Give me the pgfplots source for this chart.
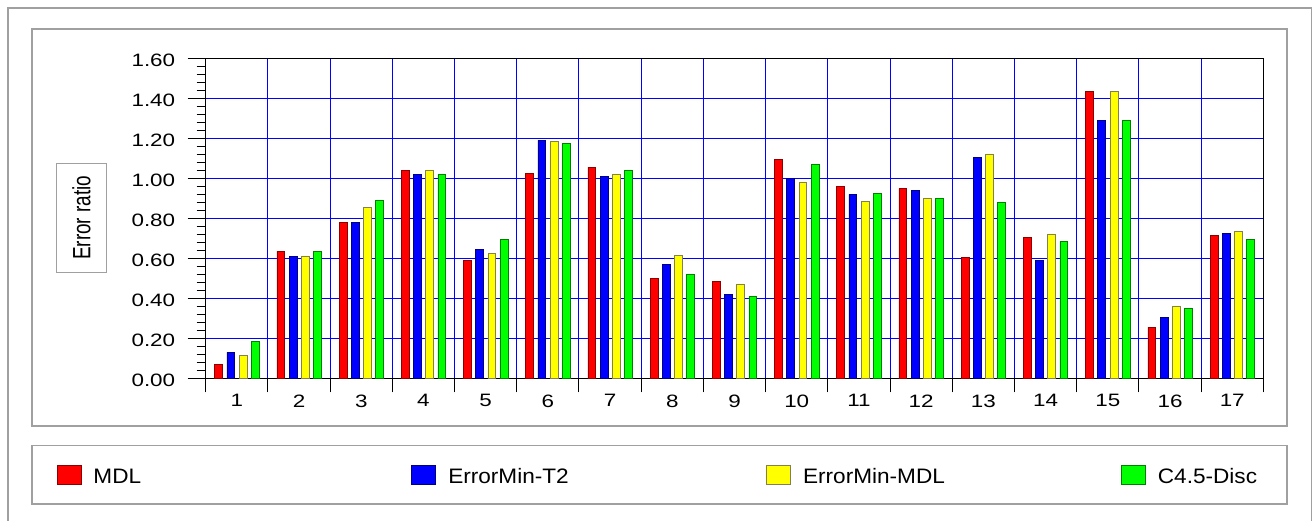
\documentclass[border=0pt]{standalone}
\usepackage{fontspec}
\setmainfont{Liberation Sans}
\newfontfamily\tickfont{Liberation Sans}[FakeStretch=1.25]
\newfontfamily\legfont{Liberation Sans}[FakeStretch=1.08]
\usepackage{pgfplots}
\usepackage{pgfplotstable}
\pgfplotsset{compat=1.18}
\definecolor{framegray}{HTML}{A0A0A0}
\definecolor{cred}{HTML}{FF0000}
\definecolor{cblue}{HTML}{0000FF}
\definecolor{cyellow}{HTML}{FFFF00}
\definecolor{cgreen}{HTML}{00FF00}

\pgfplotstableread{
x mdl t2 emmdl c45
1  0.070 0.130 0.115 0.185
2  0.636 0.610 0.610 0.636
3  0.780 0.780 0.856 0.890
4  1.040 1.020 1.040 1.020
5  0.590 0.643 0.623 0.696
6  1.025 1.190 1.187 1.175
7  1.056 1.008 1.020 1.040
8  0.500 0.570 0.615 0.520
9  0.486 0.420 0.470 0.410
10 1.096 1.000 0.980 1.070
11 0.960 0.920 0.885 0.925
12 0.950 0.940 0.900 0.900
13 0.605 1.106 1.120 0.878
14 0.706 0.590 0.720 0.686
15 1.433 1.290 1.433 1.290
16 0.256 0.306 0.360 0.350
17 0.716 0.726 0.735 0.695
}\datatable

\newcommand{\legtext}[1]{\raisebox{0bp}[0pt][0pt]{\makebox[318bp][l]{#1}}}

\begin{document}
\begin{tikzpicture}[x=1bp,y=-1bp]
\useasboundingbox (0,0) rectangle (1314,521);
% frames
\draw[framegray, line width=1.2bp] (8,8) rectangle (1311.5,540);
\draw[framegray, line width=1.2bp] (32,29) rectangle (1287,426);
\draw[framegray, line width=1.2bp] (32,445.7) rectangle (1287,504);

\begin{axis}[
  at={(205.7bp,-378.3bp)}, anchor=south west,
  scale only axis, width=1057.6bp, height=320bp,
  xmin=0.5, xmax=17.5, ymin=0, ymax=1.6,
  ybar=4.4bp, bar width=7.8bp,
  axis line style={black, line width=1bp},
  tick align=outside,
  xtick pos=bottom, ytick pos=left,
  xtick={1,...,17},
  xtick style={draw=none},
  minor xtick={0.5,1.5,...,17.5},
  minor x tick style={draw=none},
  xminorgrids=true,
  minor x grid style={cblue, line width=1bp},
  ytick={0,0.2,...,1.6},
  minor y tick num=4,
  major tick length=18bp, minor tick length=9bp,
  y tick style={black, line width=0.8bp},
  minor y tick style={black, line width=0.8bp},
  ymajorgrids=true,
  major y grid style={cblue, line width=1bp},
  /pgf/number format/assume math mode=true,
  yticklabel={\pgfmathprintnumber[fixed,fixed zerofill,precision=2]{\tick}},
  yticklabel style={font=\tickfont\fontsize{18}{18}\selectfont, anchor=east, yshift=-2bp, xshift=-9bp},
  xticklabel style={font=\tickfont\fontsize{18}{18}\selectfont, anchor=north, inner sep=0pt, yshift=2bp},
  ylabel={\fontsize{19}{19}\selectfont\scalebox{1}[1.32]{Error ratio}},
  ylabel style={at={(axis description cs:-0.11744,0.5016)}, anchor=center,
     draw=framegray, line width=1bp, minimum width=109bp, minimum height=49.6bp, inner sep=0pt},
  legend columns=4,
  legend style={at={(axis description cs:-0.1409,-0.2709)}, anchor=north west,
     draw=none, fill=none, inner sep=0pt, outer sep=0pt,
     nodes={inner sep=0pt, outer sep=0pt},
     /tikz/every odd column/.append style={column sep=12bp},
     font=\legfont\fontsize{21}{21}\selectfont},
  legend image code/.code={\draw[#1, line width=0.8bp] (0bp,0bp) rectangle (24bp,19bp);},
]
\addplot[fill=cred, draw=red!55!black, line width=0.6bp] table[x=x,y=mdl]{\datatable};
\addlegendentry{\legtext{MDL}}
\addplot[fill=cblue, draw=blue!50!black, line width=0.6bp] table[x=x,y=t2]{\datatable};
\addlegendentry{\legtext{ErrorMin-T2}}
\addplot[fill=cyellow, draw=yellow!45!black, line width=0.6bp] table[x=x,y=emmdl]{\datatable};
\addlegendentry{\legtext{ErrorMin-MDL}}
\addplot[fill=cgreen, draw=green!50!black, line width=0.6bp] table[x=x,y=c45]{\datatable};
\addlegendentry{\legtext{C4.5-Disc}}
\end{axis}

\begin{axis}[
  at={(205.7bp,-378.3bp)}, anchor=south west,
  scale only axis, width=1057.6bp, height=320bp,
  xmin=0.5, xmax=17.5, ymin=0, ymax=1.6,
  hide y axis, axis x line*=bottom,
  axis line style={draw=none},
  tick align=outside,
  xtick={0.5,1.5,...,17.5}, xticklabels={},
  major tick length=14bp,
  x tick style={black, line width=1bp},
]
\end{axis}
\end{tikzpicture}
\end{document}
